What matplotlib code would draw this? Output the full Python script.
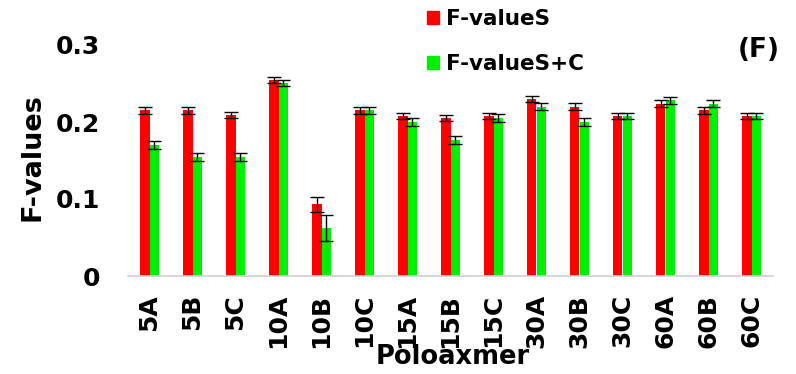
import numpy as np
import matplotlib.pyplot as plt
from matplotlib.patches import Patch

groups = ['5A', '5B', '5C', '10A', '10B', '10C', '15A', '15B', '15C',
          '30A', '30B', '30C', '60A', '60B', '60C']
f_s = [0.215, 0.215, 0.209, 0.255, 0.093, 0.215, 0.208, 0.205, 0.208,
       0.230, 0.220, 0.208, 0.224, 0.215, 0.208]
f_sc = [0.170, 0.155, 0.155, 0.251, 0.062, 0.215, 0.200, 0.177, 0.205,
        0.220, 0.200, 0.208, 0.228, 0.224, 0.208]
err_s = [0.005, 0.005, 0.004, 0.004, 0.010, 0.005, 0.004, 0.004, 0.004,
         0.004, 0.005, 0.004, 0.004, 0.005, 0.004]
err_sc = [0.005, 0.005, 0.005, 0.004, 0.017, 0.005, 0.005, 0.005, 0.005,
          0.005, 0.005, 0.004, 0.004, 0.004, 0.004]

plt.rcParams['font.family'] = 'DejaVu Sans'
plt.rcParams['font.weight'] = 'bold'

fig = plt.figure(figsize=(7.96, 3.74), dpi=100)
W, H = 796, 374
ax = fig.add_axes([128 / W, (H - 276) / H, 645 / W, 231 / H])

x = np.arange(len(groups))
w = 0.23
ekw = dict(elinewidth=1.0, capthick=1.0)
ax.bar(x - w / 2, f_s, w, color='#ff0000', yerr=err_s, capsize=5,
       error_kw=ekw, label='F-valueS')
ax.bar(x + w / 2, f_sc, w, color='#00ee00', yerr=err_sc, capsize=5,
       error_kw=ekw, label='F-valueS+C')

ax.set_xlim(-0.5, len(groups) - 0.5)
ax.set_ylim(0, 0.3)
ax.set_yticks([0, 0.1, 0.2, 0.3])
ax.set_yticklabels(['0', '0.1', '0.2', '0.3'], fontsize=18, fontweight='bold')
ax.set_xticks(x)
ax.set_xticklabels(groups, rotation=90, fontsize=18, fontweight='bold')
ax.tick_params(axis='both', length=0)
ax.tick_params(axis='y', pad=20)
ax.tick_params(axis='x', pad=13)
for s in ['top', 'right', 'left']:
    ax.spines[s].set_visible(False)
ax.spines['bottom'].set_color('#d0d0d0')
ax.spines['bottom'].set_linewidth(1.2)

fig.text(32 / W, 1 - 157 / H, 'F-values', rotation=90, fontsize=19.5,
         fontweight='bold', ha='center', va='center')
fig.text(453 / W, 1 - 357 / H, 'Poloaxmer', fontsize=18.5,
         fontweight='bold', ha='center', va='center')
fig.text(759 / W, 1 - 50 / H, '(F)', fontsize=19,
         fontweight='bold', ha='center', va='center')

handles = [Patch(color='#ff0000'), Patch(color='#00ee00')]
fig.legend(handles, ['F-valueS', 'F-valueS+C'], loc='upper left',
           bbox_to_anchor=(408 / W, 1 + 10 / H), frameon=False,
           handlelength=0.55, handleheight=0.55, handletextpad=0.3,
           labelspacing=1.15, prop={'size': 15.5, 'weight': 'bold'})

fig.savefig('out.png', dpi=100)
